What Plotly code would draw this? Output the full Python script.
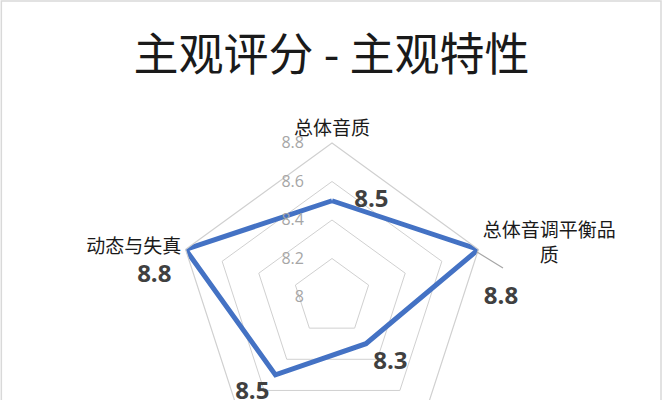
import plotly.graph_objects as go

# categories, clockwise from the top (bottom two are cut off in the picture)
categories = ["总体音质", "总体音调平衡品<br>\u3000\u3000\u3000质", "声场与定位", "细节与解析", "动态与失真"]
scores = [8.5, 8.8, 8.3, 8.5, 8.8]
score_labels = ["8.5", "<br>8.8", "8.3", "8.5", "8.8"]
radial_ticks = [8, 8.2, 8.4, 8.6, 8.8]

# label placement (text offset is driven by the invisible marker size)
label_positions = ["middle right", "bottom right", "bottom right", "bottom left", "bottom left", "top center"]
label_gaps = [34, 7, 10, 8, 21, 1]

W, H = 663, 480

fig = go.Figure()

# close the polygon by repeating the first point
fig.add_trace(go.Scatterpolar(
    r=scores + scores[:1],
    theta=categories + categories[:1],
    mode="lines+markers+text",
    text=score_labels + [""],
    textposition=label_positions,
    textfont=dict(family="Open Sans", size=24, color="#404040", weight="bold"),
    marker=dict(size=label_gaps, color="rgba(0,0,0,0)", line=dict(width=0)),
    line=dict(color="#4472C4", width=5),
    cliponaxis=False,
    hoverinfo="skip",
    showlegend=False,
))

fig.update_layout(
    width=W,
    height=H,
    margin=dict(l=0, r=0, t=0, b=0),
    paper_bgcolor="white",
    font=dict(family="Noto Sans CJK SC"),
    title=dict(
        text="主观评分 - 主观特性",
        x=0.5, xanchor="center",
        y=1 - 55 / H, yanchor="middle",
        font=dict(family="Noto Sans CJK SC", size=45, color="#1a1a1a"),
    ),
    polar=dict(
        domain=dict(x=[178 / W, 486 / W], y=[1 - 451 / H, 1 - 143 / H]),
        bgcolor="white",
        gridshape="linear",
        radialaxis=dict(
            range=[8, 8.8],
            tickvals=radial_ticks,
            ticktext=[str(v) for v in radial_ticks],
            angle=90,
            tickangle=90,
            side="counterclockwise",
            showline=False,
            ticks="outside",
            ticklen=22,
            tickcolor="rgba(0,0,0,0)",
            gridcolor="#D0D0D0",
            gridwidth=1.2,
            tickfont=dict(family="Open Sans", size=16, color="#A6A6A6"),
        ),
        angularaxis=dict(
            rotation=90,
            direction="clockwise",
            showgrid=False,
            showline=True,
            linecolor="#D0D0D0",
            linewidth=1.2,
            ticks="",
            tickfont=dict(family="Noto Sans CJK SC", size=19, color="#1a1a1a"),
        ),
    ),
    shapes=[
        # chart area border
        dict(type="rect", xref="paper", yref="paper", x0=0.002, x1=0.997, y0=0, y1=1 - 1 / H,
             line=dict(color="#D9D9D9", width=1.5)),
        # leader line of the right-hand data label
        dict(type="line", xref="paper", yref="paper",
             x0=477 / W, y0=1 - 252 / H, x1=503 / W, y1=1 - 268 / H,
             line=dict(color="#A6A6A6", width=1.2)),
    ],
)

fig.write_html("out.html", config={"displayModeBar": False},
               post_script="document.body.style.margin='0';")
